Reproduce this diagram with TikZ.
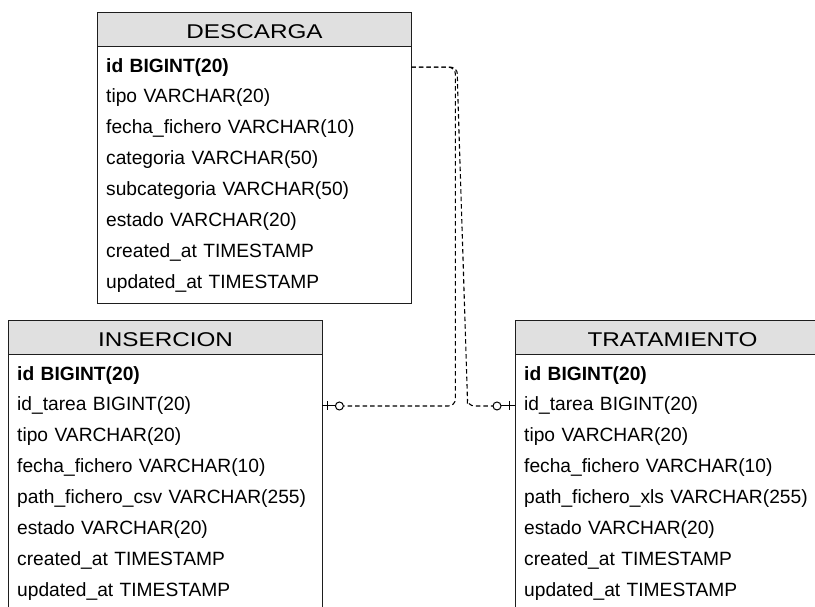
\documentclass[tikz,border=0pt]{standalone}
\usepackage{fontspec}
\setmainfont{Liberation Sans}
\newfontfamily\headfont[FakeStretch=1.22]{Liberation Sans}
\usetikzlibrary{calc}
\definecolor{headfill}{HTML}{E0E0E0}
\definecolor{edge}{HTML}{1E1E1E}

% An entity table: name prefix, x, y of top-left corner, title, rows
\newcommand\erdtable[5]{%
  \node[tablebody] (#1-body) at ({#2},{#3+34}) {};
  \node[tablehead] (#1-head) at ({#2},{#3}) {#4};
  \foreach \r [count=\k] in {#5} {
    \node[tablerow] (#1-\k) at ({#2},{#3+39.5+(\k-1)*30.86}) {\r};
  }%
}

\begin{document}
\begin{tikzpicture}[x=1pt,y=-1pt,
  tablehead/.style={draw=edge, line width=1.1pt, fill=headfill,
    minimum width=314pt, minimum height=34pt, inner sep=0pt,
    text depth=0pt, text height=17pt,
    anchor=north west, font=\headfont\fontsize{19.9}{23}\selectfont},
  tablebody/.style={draw=edge, line width=1.1pt, fill=white,
    minimum width=314pt, minimum height=257pt, inner sep=0pt,
    anchor=north west},
  tablerow/.style={minimum width=314pt, minimum height=30.86pt,
    inner xsep=9pt, inner ysep=0pt, text width=296pt, align=left,
    anchor=north west, font=\fontsize{19.2}{23}\selectfont},
  link/.style={line width=1.1pt, dash pattern=on 4.5pt off 3pt,
    rounded corners=7pt},
  endmark/.style={line width=1pt},
]
\useasboundingbox (0,0) rectangle (815,606);
\clip (0,0) rectangle (815,606);

\erdtable{d}{97}{12}{DESCARGA}{{\textbf{id BIGINT(20)}},
  tipo VARCHAR(20), fecha\_fichero VARCHAR(10), categoria VARCHAR(50),
  subcategoria VARCHAR(50), estado VARCHAR(20), created\_at TIMESTAMP,
  updated\_at TIMESTAMP}

\erdtable{i}{8}{320}{INSERCION}{{\textbf{id BIGINT(20)}},
  id\_tarea BIGINT(20), tipo VARCHAR(20), fecha\_fichero VARCHAR(10),
  path\_fichero\_csv VARCHAR(255), estado VARCHAR(20),
  created\_at TIMESTAMP, updated\_at TIMESTAMP}

\erdtable{t}{515}{320}{TRATAMIENTO}{{\textbf{id BIGINT(20)}},
  id\_tarea BIGINT(20), tipo VARCHAR(20), fecha\_fichero VARCHAR(10),
  path\_fichero\_xls VARCHAR(255), estado VARCHAR(20),
  created\_at TIMESTAMP, updated\_at TIMESTAMP}

% relationships from DESCARGA.id to the id_tarea columns
\draw[link] (d-1.east) -- ++(44,0) |- ($(i-2.east)+(21,0)$);
\draw[link] (d-1.east) -- ++(46,0) -- ++(0,14) -- ++(10,316)
  |- ($(t-2.west)+(-22,0)$);

% zero-or-one ends
\draw[endmark] (i-2.east) -- ++(21,0);
\draw[endmark] ($(i-2.east)+(5,-4.5)$) -- ++(0,9);
\draw[endmark, fill=white] ($(i-2.east)+(17,0)$) circle (4pt);
\draw[endmark] (t-2.west) -- ++(-22,0);
\draw[endmark] ($(t-2.west)+(-6,-4.5)$) -- ++(0,9);
\draw[endmark, fill=white] ($(t-2.west)+(-18,0)$) circle (4pt);
\end{tikzpicture}
\end{document}
